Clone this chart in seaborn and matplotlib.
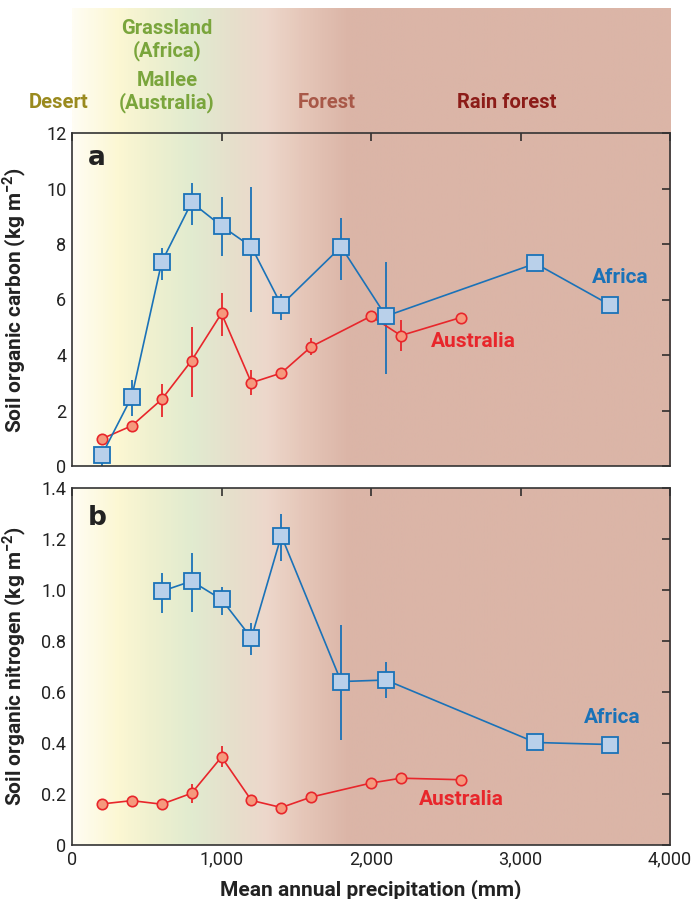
import numpy as np
import pandas as pd
import matplotlib
matplotlib.use("Agg")
import matplotlib.pyplot as plt
from matplotlib.colors import LinearSegmentedColormap
import seaborn as sns

sns.set_style("white")
plt.rcParams['font.family'] = ['Roboto', 'DejaVu Sans']

### Data
# panel a - soil organic carbon (kg m-2)
africa_c_x = [200, 400, 600, 800, 1000, 1200, 1400, 1800, 2100, 3100, 3600]
africa_c_y = [0.4, 2.5, 7.35, 9.5, 8.65, 7.9, 5.8, 7.9, 5.4, 7.3, 5.8]
africa_c_lo = [0.4, 0.7, 0.65, 0.8, 1.1, 2.35, 0.55, 1.2, 2.1, 0, 0]
africa_c_hi = [0.3, 0.6, 0.5, 0.7, 1.05, 2.15, 0.4, 1.05, 1.95, 0, 0]

austr_c_x = [200, 400, 600, 800, 1000, 1200, 1400, 1600, 2000, 2200, 2600]
austr_c_y = [0.98, 1.45, 2.4, 3.8, 5.5, 3.0, 3.35, 4.3, 5.4, 4.7, 5.35]
austr_c_lo = [0, 0, 0.65, 1.3, 0.8, 0.45, 0.2, 0.3, 0, 0.55, 0]
austr_c_hi = [0, 0, 0.55, 1.2, 0.75, 0.45, 0.15, 0.3, 0, 0.55, 0]

# panel b - soil organic nitrogen (kg m-2)
africa_n_x = [600, 800, 1000, 1200, 1400, 1800, 2100, 3100, 3600]
africa_n_y = [0.995, 1.035, 0.963, 0.812, 1.213, 0.641, 0.647, 0.402, 0.394]
africa_n_lo = [0.085, 0.12, 0.06, 0.065, 0.1, 0.23, 0.07, 0, 0]
africa_n_hi = [0.07, 0.11, 0.05, 0.06, 0.085, 0.22, 0.07, 0, 0]

austr_n_x = [200, 400, 600, 800, 1000, 1200, 1400, 1600, 2000, 2200, 2600]
austr_n_y = [0.161, 0.174, 0.16, 0.203, 0.345, 0.175, 0.147, 0.188, 0.243, 0.262, 0.256]
austr_n_lo = [0, 0, 0, 0.04, 0.04, 0, 0, 0.02, 0, 0, 0]
austr_n_hi = [0, 0, 0, 0.035, 0.045, 0, 0, 0.02, 0, 0, 0]

x_ticks = [0, 1000, 2000, 3000, 4000]
x_ticklabels = ['0', '1,000', '2,000', '3,000', '4,000']
c_ticks = [0, 2, 4, 6, 8, 10, 12]
n_ticks = [0, 0.2, 0.4, 0.6, 0.8, 1.0, 1.2, 1.4]
n_ticklabels = ['0', '0.2', '0.4', '0.6', '0.8', '1.0', '1.2', '1.4']

biomes = ['Desert', 'Grassland\n(Africa)', 'Mallee\n(Australia)', 'Forest', 'Rain forest']

# background gradient (precipitation in mm -> colour)
grad_pos = [0, 300, 550, 800, 1050, 1300, 1550, 1850, 4000]
grad_col = ['#fffdf3', '#fcf7d3', '#eef0cf', '#e1ebd0', '#e6e0cc', '#edd7cb',
            '#e5c6b8', '#dbb5a7', '#dbb5a7']

BLUE = '#1a72b8'
BLUE_FACE = '#b9d0ea'
RED = '#e8262b'
RED_FACE = '#f5997d'

cmap = LinearSegmentedColormap.from_list(
    'biome', list(zip(np.array(grad_pos) / 4000, grad_col)))
grad = np.linspace(0, 1, 800).reshape(1, -1)

W, H = 693, 899
fig = plt.figure(figsize=(W / 100, H / 100), dpi=100)

def px_axes(x0, y0, x1, y1):
    return fig.add_axes([x0 / W, 1 - y1 / H, (x1 - x0) / W, (y1 - y0) / H])

ax_head = px_axes(72, 8, 670, 134)
ax_a = px_axes(72, 133, 670, 466)
ax_b = px_axes(72, 488, 670, 845)

ax_head.imshow(grad, extent=[0, 4000, 0, 1], aspect='auto', cmap=cmap, zorder=0)
ax_head.set_xlim(0, 4000)
ax_head.set_ylim(0, 1)
ax_head.axis('off')


def panel(ax, ymax, ax_x, ax_y, ax_lo, ax_hi, au_x, au_y, au_lo, au_hi):
    ax.imshow(grad, extent=[0, 4000, 0, ymax], aspect='auto', cmap=cmap, zorder=0)
    ax.errorbar(ax_x, ax_y, yerr=[ax_lo, ax_hi], fmt='none', ecolor=BLUE,
                elinewidth=1.3, capsize=0, zorder=2)
    ax.errorbar(au_x, au_y, yerr=[au_lo, au_hi], fmt='none', ecolor=RED,
                elinewidth=1.3, capsize=0, zorder=2)
    sns.lineplot(x=ax_x, y=ax_y, ax=ax, sort=False, color=BLUE, lw=1.2,
                 marker='s', markersize=12, markerfacecolor=BLUE_FACE,
                 markeredgecolor=BLUE, markeredgewidth=1.3, zorder=4)
    sns.lineplot(x=au_x, y=au_y, ax=ax, sort=False, color=RED, lw=1.2,
                 marker='o', markersize=7.5, markerfacecolor=RED_FACE,
                 markeredgecolor=RED, markeredgewidth=1.2, zorder=3)
    ax.set_xlim(0, 4000)
    ax.set_ylim(0, ymax)
    ax.set_xticks(x_ticks)
    ax.tick_params(direction='in', length=6, width=1.1, top=True, right=True,
                   labelsize=13, colors='#222222', pad=4)
    for s in ax.spines.values():
        s.set_color('#333333')
        s.set_linewidth(1.2)


panel(ax_a, 12, africa_c_x, africa_c_y, africa_c_lo, africa_c_hi,
      austr_c_x, austr_c_y, austr_c_lo, austr_c_hi)
panel(ax_b, 1.4, africa_n_x, africa_n_y, africa_n_lo, africa_n_hi,
      austr_n_x, austr_n_y, austr_n_lo, austr_n_hi)

ax_a.set_yticks(c_ticks)
ax_a.set_xticklabels([])
ax_b.set_yticks(n_ticks)
ax_b.set_yticklabels(n_ticklabels)
ax_b.set_xticklabels(x_ticklabels)

lab = dict(fontsize=15, fontweight='bold', color='#222222')
ax_a.set_ylabel('Soil organic carbon (kg m$^{\\mathregular{-2}}$)', **lab)
ax_b.set_ylabel('Soil organic nitrogen (kg m$^{\\mathregular{-2}}$)', **lab)
ax_b.set_xlabel('Mean annual precipitation (mm)', **lab)
ax_a.yaxis.set_label_coords(-0.074, 0.5)
ax_b.yaxis.set_label_coords(-0.074, 0.5)
ax_b.xaxis.set_label_coords(0.5, -0.095)

pan = dict(fontsize=19, fontweight='bold', color='#222222', family='DejaVu Sans',
           va='center', ha='center')
ax_a.text(0.042, 0.925, 'a', transform=ax_a.transAxes, **pan)
ax_b.text(0.042, 0.915, 'b', transform=ax_b.transAxes, **pan)

ser = dict(fontsize=15, fontweight='bold', ha='left', va='center')
ax_a.text(3480, 6.8, 'Africa', color=BLUE, **ser)
ax_a.text(2400, 4.5, 'Australia', color=RED, **ser)
ax_b.text(3425, 0.5, 'Africa', color=BLUE, **ser)
ax_b.text(2320, 0.18, 'Australia', color=RED, **ser)

# biome labels on top
hd = dict(fontsize=14.5, fontweight='bold', ha='center', va='center',
          linespacing=1.2)
fig.text(59 / W, 1 - 102 / H, biomes[0], color='#9a8a1e', **hd)
fig.text(167 / W, 1 - 40 / H, biomes[1], color='#7aa53c', **hd)
fig.text(167 / W, 1 - 92 / H, biomes[2], color='#7aa53c', **hd)
fig.text(327 / W, 1 - 102 / H, biomes[3], color='#a85848', **hd)
fig.text(507 / W, 1 - 102 / H, biomes[4], color='#8c1c18', **hd)

fig.savefig('out.png', dpi=100)
